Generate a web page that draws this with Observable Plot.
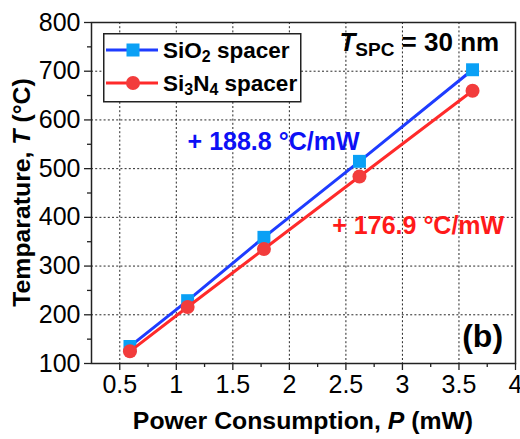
<!DOCTYPE html>
<html><head><meta charset="utf-8">
<script src="https://cdn.jsdelivr.net/npm/d3@7"></script>
<script src="https://cdn.jsdelivr.net/npm/@observablehq/plot@0.6"></script>
<style>
body{margin:0;background:#fff;}
#chart{position:relative;width:520px;height:439px;font-family:"Liberation Sans",Arial,sans-serif;}
#legend{position:absolute;left:103px;top:33px;}
</style></head><body><div id="chart"></div>
<script>
// Data
const power = [0.59, 1.10, 1.775, 2.62, 3.62];          // P (mW)
const tempSiO2 = [135, 229, 359, 515, 703];              // T (°C), SiO2 spacer
const tempSi3N4 = [125, 216, 335, 484, 660];             // T (°C), Si3N4 spacer
const seriesNames = ["SiO2 spacer", "Si3N4 spacer"];
const xTicks = [0.5, 1, 1.5, 2, 2.5, 3, 3.5, 4];
const xMinorTicks = [0.75, 1.25, 1.75, 2.25, 2.75, 3.25, 3.75];
const yTicks = [100, 200, 300, 400, 500, 600, 700, 800];
const yMinorTicks = [150, 250, 350, 450, 550, 650, 750];
const slopeLabels = ["+ 188.8 °C/mW", "+ 176.9 °C/mW"];
const xTitle = ["Power Consumption, ", "P", " (mW)"];
const yTitle = ["Temparature, ", "T", " (°C)"];
const panelLabel = "(b)";

const siO2 = power.map((p, i) => ({p, t: tempSiO2[i], s: seriesNames[0]}));
const si3n4 = power.map((p, i) => ({p, t: tempSi3N4[i], s: seriesNames[1]}));

const W = 520, H = 439, mL = 91, mR = 5, mT = 22, mB = 76;
const blueLine = "#1e3cff", blueMark = "#0aa0f5", redLine = "#ff2a2a", redMark = "#f23c3c";
const gridStyle = {stroke: "#000", strokeOpacity: 0.85, strokeDasharray: "2,2.2", strokeWidth: 1};

const plot = Plot.plot({
  width: W, height: H,
  marginLeft: mL, marginRight: mR, marginTop: mT, marginBottom: mB,
  style: {fontFamily: "'Liberation Sans', Arial, sans-serif", fontSize: "25px", color: "#000", background: "#fff", overflow: "visible"},
  x: {domain: [0.25, 4]},
  y: {domain: [100, 800]},
  marks: [
    Plot.gridX(xTicks.slice(0, -1), gridStyle),
    Plot.gridY(yTicks.slice(1, -1), gridStyle),
    Plot.axisX(xMinorTicks, {tickSize: 4, tickFormat: () => "", label: null, strokeWidth: 1.3, stroke: "#222"}),
    Plot.axisX(xTicks, {tickSize: 7, tickPadding: 5, fontSize: 25, tickFormat: d => String(d), label: null, strokeWidth: 1.3, stroke: "#222"}),
    Plot.axisY(yMinorTicks, {tickSize: 4, tickFormat: () => "", label: null, strokeWidth: 1.3, stroke: "#222"}),
    Plot.axisY(yTicks, {tickSize: 7, tickPadding: 4, fontSize: 25, tickFormat: d => String(d), label: null, strokeWidth: 1.3, stroke: "#222"}),
    Plot.line(siO2, {x: "p", y: "t", stroke: blueLine, strokeWidth: 3}),
    Plot.dot(siO2, {x: "p", y: "t", symbol: "square", r: 7.3, fill: blueMark, stroke: "none"}),
    Plot.line(si3n4, {x: "p", y: "t", stroke: redLine, strokeWidth: 3}),
    Plot.dot(si3n4, {x: "p", y: "t", symbol: "circle", r: 7, fill: redMark, stroke: "none"}),
    Plot.frame({stroke: "#222", strokeWidth: 1.5}),
    Plot.text([{x: 1.86, y: 555, label: slopeLabels[0]}], {x: "x", y: "y", text: "label", fill: "#0d10f5", fontWeight: "bold", fontSize: 25, textAnchor: "middle"}),
    Plot.text([{x: 3.14, y: 382, label: slopeLabels[1]}], {x: "x", y: "y", text: "label", fill: "#ff1a1a", fontWeight: "bold", fontSize: 25, textAnchor: "middle"}),
    Plot.text([{x: 3.89, y: 155, label: panelLabel}], {x: "x", y: "y", text: "label", fill: "#000", fontWeight: "bold", fontSize: 32, textAnchor: "end"})
  ]
});
document.getElementById("chart").appendChild(plot);

const svg = d3.select(plot);
const xs = plot.scale("x"), ys = plot.scale("y");
const font = "'Liberation Sans', Arial, sans-serif";

// T_SPC annotation
const tspc = svg.append("text").attr("x", xs.apply(3.86)).attr("y", ys.apply(740))
  .attr("text-anchor", "end").attr("font-family", font).attr("font-weight", "bold").attr("font-size", 26).attr("fill", "#000");
tspc.append("tspan").attr("font-style", "italic").text("T");
tspc.append("tspan").attr("font-size", 19).attr("dy", 5).text("SPC");
tspc.append("tspan").attr("dy", -5).text(" = 30 nm");

// Axis titles
const cx = mL + (W - mL - mR) / 2, cy = mT + (H - mT - mB) / 2;
const xt = svg.append("text").attr("x", cx).attr("y", 429).attr("text-anchor", "middle")
  .attr("font-family", font).attr("font-weight", "bold").attr("font-size", 24.8).attr("fill", "#000");
xt.append("tspan").text(xTitle[0]);
xt.append("tspan").attr("font-style", "italic").text(xTitle[1]);
xt.append("tspan").text(xTitle[2]);
const yt = svg.append("text").attr("transform", `translate(30,${cy}) rotate(-90)`).attr("text-anchor", "middle")
  .attr("font-family", font).attr("font-weight", "bold").attr("font-size", 24.8).attr("fill", "#000");
yt.append("tspan").text(yTitle[0]);
yt.append("tspan").attr("font-style", "italic").text(yTitle[1]);
yt.append("tspan").text(yTitle[2]);

// Legend (overlay)
const leg = d3.select("#chart").append("svg").attr("id", "legend").attr("width", 199).attr("height", 70);
leg.append("rect").attr("x", 0.75).attr("y", 0.75).attr("width", 197).attr("height", 68)
  .attr("fill", "#fff").attr("stroke", "#222").attr("stroke-width", 1.5);
const rows = [
  {y: 17, line: blueLine, mark: blueMark, sym: "square", parts: [["SiO", 0], ["2", 1], [" spacer", 0]]},
  {y: 50, line: redLine, mark: redMark, sym: "circle", parts: [["Si", 0], ["3", 1], ["N", 0], ["4", 1], [" spacer", 0]]}
];
rows.forEach(r => {
  leg.append("line").attr("x1", 3).attr("x2", 55).attr("y1", r.y).attr("y2", r.y).attr("stroke", r.line).attr("stroke-width", 3);
  if (r.sym === "square") leg.append("rect").attr("x", 30 - 6.5).attr("y", r.y - 6.5).attr("width", 13).attr("height", 13).attr("fill", r.mark);
  else leg.append("circle").attr("cx", 30).attr("cy", r.y).attr("r", 7).attr("fill", r.mark);
  const t = leg.append("text").attr("x", 60).attr("y", r.y + 8).attr("font-family", font).attr("font-weight", "bold").attr("font-size", 22.5).attr("fill", "#000");
  let sub = false;
  r.parts.forEach(([s, isSub]) => {
    const sp = t.append("tspan").text(s);
    if (isSub && !sub) { sp.attr("font-size", 16).attr("dy", 4); sub = true; }
    else if (isSub && sub) { sp.attr("font-size", 16); }
    else if (!isSub && sub) { sp.attr("dy", -4); sub = false; }
  });
});
</script>
</body></html>
